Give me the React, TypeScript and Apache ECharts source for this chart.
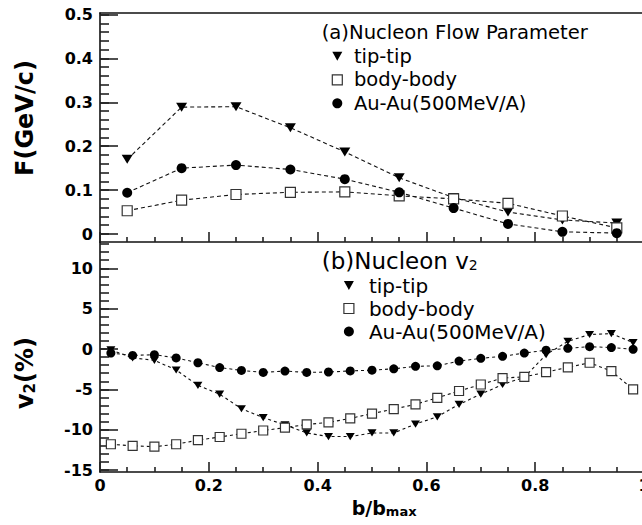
import React, { useEffect, useRef } from 'react';
import * as echarts from 'echarts';

// ---------- data ----------
const SERIES_NAMES = ['tip-tip', 'body-body', 'Au-Au(500MeV/A)'];

// (a) Nucleon flow parameter F (GeV/c)
const X_TOP = [0.05, 0.15, 0.25, 0.35, 0.45, 0.55, 0.65, 0.75, 0.85, 0.95];
const TIP_TOP = [0.17, 0.289, 0.29, 0.242, 0.187, 0.128, 0.083, 0.05, 0.032, 0.025];
const BODY_TOP = [0.053, 0.077, 0.09, 0.095, 0.096, 0.087, 0.08, 0.07, 0.041, 0.014];
const AU_TOP = [0.094, 0.15, 0.157, 0.147, 0.125, 0.095, 0.059, 0.023, 0.005, 0.002];

// (b) Nucleon v2 (%)
const X_BOT = [0.02, 0.06, 0.1, 0.14, 0.18, 0.22, 0.26, 0.3, 0.34, 0.38, 0.42, 0.46, 0.5,
  0.54, 0.58, 0.62, 0.66, 0.7, 0.74, 0.78, 0.82, 0.86, 0.9, 0.94, 0.98];
const TIP_BOT = [-0.1, -1.1, -1.4, -2.6, -4.5, -5.6, -7.4, -8.5, -9.4, -10.4, -10.85, -10.85, -10.4,
  -10.4, -9.3, -8.4, -6.86, -5.6, -4.4, -3.5, -0.7, 0.95, 1.8, 1.9, 0.8];
const BODY_BOT = [-11.8, -12.0, -12.1, -11.8, -11.3, -10.9, -10.5, -10.1, -9.75, -9.35, -9.1, -8.6, -8.0,
  -7.45, -6.85, -6.05, -5.2, -4.4, -3.6, -3.45, -2.87, -2.27, -1.7, -2.75, -5.0];
const AU_BOT = [-0.5, -0.8, -0.7, -1.1, -1.7, -2.3, -2.65, -2.9, -2.73, -2.9, -2.85, -2.72, -2.62,
  -2.45, -2.15, -2.08, -1.5, -1.16, -0.9, -0.5, -0.15, 0.08, 0.29, 0.18, -0.04];

// axis ranges and tick values
const X_MIN = 0, X_MAX = 1, X_STEP = 0.2;
const F_MIN = -0.0182, F_MAX = 0.5034;
const V_MIN = -15.24, V_MAX = 13.26;
const F_TICKS = [0, 0.1, 0.2, 0.3, 0.4, 0.5];
const F_MINOR_TICKS = [0, 0.02, 0.04, 0.06, 0.08, 0.1, 0.12, 0.14, 0.16, 0.18, 0.2, 0.22, 0.24, 0.26,
  0.28, 0.3, 0.32, 0.34, 0.36, 0.38, 0.4, 0.42, 0.44, 0.46, 0.48, 0.5];
const V_TICKS = [-15, -10, -5, 0, 5, 10];
const V_MINOR_TICKS = [-15, -14, -13, -12, -11, -10, -9, -8, -7, -6, -5, -4, -3, -2, -1, 0,
  1, 2, 3, 4, 5, 6, 7, 8, 9, 10, 11, 12, 13];

// ---------- styles ----------
const FONT = 'DejaVu Sans';
const TRI = 'path://M0,0L10,0L5,9Z';
const SQUARE_STROKE = '#333';
const AXIS_COLOR = '#111';
const TICK_COLOR = '#222';

const pairs = (xs: number[], ys: number[]) => xs.map((x, i) => [x, ys[i]]);

function buildOption() {
  const lineAxis = { show: true, onZero: false, lineStyle: { color: AXIS_COLOR, width: 1.6 } };
  const tickStyle = { color: TICK_COLOR, width: 1.6 };
  const xAxisBase = (gridIndex: number, labels: boolean) => ({
    type: 'value', gridIndex, min: X_MIN, max: X_MAX, interval: X_STEP, position: 'bottom',
    axisLine: lineAxis,
    axisTick: { show: true, inside: true, length: 10, lineStyle: tickStyle },
    minorTick: { show: true, splitNumber: 4, length: 5, lineStyle: tickStyle },
    splitLine: { show: false }, minorSplitLine: { show: false },
    axisLabel: {
      show: labels, margin: 5, color: '#000', fontFamily: FONT, fontWeight: 'bold', fontSize: 16,
      formatter: (v: number) => (Math.abs(v) < 1e-9 ? '0' : Math.abs(v - 1) < 1e-9 ? '1' : v.toFixed(1)),
    },
  });
  const yMain = (gridIndex: number, min: number, max: number, ticks: number[], fmt: (v: number) => string) => ({
    type: 'value', gridIndex, min, max, position: 'left',
    axisLine: lineAxis,
    axisTick: { show: true, inside: true, length: 18, customValues: ticks, lineStyle: tickStyle },
    splitLine: { show: false },
    axisLabel: { show: true, margin: 7, color: '#000', fontFamily: FONT, fontWeight: 'bold', fontSize: 16,
      customValues: ticks, formatter: fmt },
  });
  const yMinor = (gridIndex: number, min: number, max: number, ticks: number[]) => ({
    type: 'value', gridIndex, min, max, position: 'left', offset: 0,
    axisLine: { show: false, onZero: false },
    axisTick: { show: true, inside: true, length: 9, customValues: ticks, lineStyle: tickStyle },
    splitLine: { show: false },
    axisLabel: { show: false },
  });

  const fmtF = (v: number) => (Math.abs(v) < 1e-9 ? '0' : v.toFixed(1));
  const fmtV = (v: number) => String(Math.round(v));

  const mk = (name: string, xi: number, yi: number, data: number[][], big: boolean) => {
    const base: any = {
      type: 'line', name, xAxisIndex: xi, yAxisIndex: yi, data,
      showSymbol: true, showAllSymbol: true, symbolKeepAspect: true, silent: true,
      lineStyle: { color: '#111', width: 1.1, type: big ? [4, 3] : [3, 3] },
    };
    if (name === SERIES_NAMES[0]) {
      base.symbol = TRI; base.symbolSize = big ? [11, 10] : [9, 8];
      base.itemStyle = { color: '#000', borderWidth: 0 };
    } else if (name === SERIES_NAMES[1]) {
      base.symbol = 'rect'; base.symbolSize = big ? 10 : 9;
      base.itemStyle = { color: '#fff', borderColor: SQUARE_STROKE, borderWidth: 1.2 };
    } else {
      base.symbol = 'circle'; base.symbolSize = big ? 10 : 9;
      base.itemStyle = { color: '#000', borderWidth: 0 };
    }
    return base;
  };

  const legendData = [
    { name: SERIES_NAMES[0], icon: TRI, itemStyle: { color: '#000', borderWidth: 0 } },
    { name: SERIES_NAMES[1], icon: 'rect', itemStyle: { color: '#fff', borderColor: SQUARE_STROKE, borderWidth: 1.2 } },
    { name: SERIES_NAMES[2], icon: 'circle', itemStyle: { color: '#000', borderWidth: 0 } },
  ];
  const legend = (left: number, top: number, padLeft: number, size: number) => ({
    data: legendData, orient: 'vertical', left, top, padding: 0,
    itemWidth: 10, itemHeight: 10, itemGap: 23 - size, selectedMode: false,
    textStyle: { fontFamily: FONT, fontSize: size, color: '#000', lineHeight: size, padding: [0, 0, 0, padLeft] },
  });

  return {
    animation: false,
    backgroundColor: '#fff',
    grid: [
      { left: 100, right: -2, top: 13, height: 229, outerBoundsMode: 'none', containLabel: false },
      { left: 100, right: -2, top: 242, height: 230, outerBoundsMode: 'none', containLabel: false },
    ],
    xAxis: [
      xAxisBase(0, false),
      { type: 'value', gridIndex: 0, min: X_MIN, max: X_MAX, position: 'top', axisLine: lineAxis,
        axisTick: { show: false }, axisLabel: { show: false }, splitLine: { show: false } },
      xAxisBase(1, true),
    ],
    yAxis: [
      yMain(0, F_MIN, F_MAX, F_TICKS, fmtF),
      yMinor(0, F_MIN, F_MAX, F_MINOR_TICKS),
      yMain(1, V_MIN, V_MAX, V_TICKS, fmtV),
      yMinor(1, V_MIN, V_MAX, V_MINOR_TICKS),
    ],
    legend: [legend(331.7, 46.3, 6.6, 19.5), legend(343.3, 275.5, 10, 20)],
    graphic: [
      { type: 'text', x: 25, y: 118, rotation: Math.PI / 2,
        style: { text: 'F(GeV/c)', fill: '#000', font: `bold 24px "${FONT}"`, align: 'center', verticalAlign: 'middle' } },
      { type: 'text', x: 25, y: 373, rotation: Math.PI / 2,
        style: { text: '{m|v}{s|2}{m|(%)}', fill: '#000', align: 'center', verticalAlign: 'middle',
          rich: {
            m: { fontFamily: FONT, fontWeight: 'bold', fontSize: 24, lineHeight: 24, verticalAlign: 'bottom', fill: '#000' },
            s: { fontFamily: FONT, fontWeight: 'bold', fontSize: 15, lineHeight: 6, verticalAlign: 'bottom', fill: '#000' },
          } } },
      { type: 'text', x: 351.7, y: 508.4,
        style: { text: '{m|b/b}{s|max}', fill: '#000', align: 'left', verticalAlign: 'middle',
          rich: {
            m: { fontFamily: FONT, fontWeight: 'bold', fontSize: 19, lineHeight: 19, verticalAlign: 'bottom', fill: '#000' },
            s: { fontFamily: FONT, fontWeight: 'bold', fontSize: 13, lineHeight: 11, verticalAlign: 'bottom', fill: '#000' },
          } } },
      { type: 'text', x: 321.7, y: 32.4,
        style: { text: '(a)Nucleon Flow Parameter', fill: '#000', font: `19.6px "${FONT}"`, align: 'left', verticalAlign: 'middle' } },
      { type: 'text', x: 321.7, y: 260.6,
        style: { text: '{m|(b)Nucleon v}{s|2}', fill: '#000', align: 'left', verticalAlign: 'middle',
          rich: {
            m: { fontFamily: FONT, fontSize: 23, lineHeight: 23, verticalAlign: 'bottom', fill: '#000' },
            s: { fontFamily: FONT, fontSize: 14, lineHeight: 9, verticalAlign: 'bottom', fill: '#000' },
          } } },
    ],
    series: [
      mk(SERIES_NAMES[0], 0, 0, pairs(X_TOP, TIP_TOP), true),
      mk(SERIES_NAMES[1], 0, 0, pairs(X_TOP, BODY_TOP), true),
      mk(SERIES_NAMES[2], 0, 0, pairs(X_TOP, AU_TOP), true),
      mk(SERIES_NAMES[0], 2, 2, pairs(X_BOT, TIP_BOT), false),
      mk(SERIES_NAMES[1], 2, 2, pairs(X_BOT, BODY_BOT), false),
      mk(SERIES_NAMES[2], 2, 2, pairs(X_BOT, AU_BOT), false),
    ],
  };
}

export default function App() {
  const ref = useRef<HTMLDivElement>(null);
  useEffect(() => {
    if (!ref.current) return;
    const chart = echarts.init(ref.current, null, { renderer: 'svg' });
    chart.setOption(buildOption() as any);
    return () => chart.dispose();
  }, []);
  return (
    <div
      ref={ref}
      style={{ position: 'absolute', left: 0, top: 0, width: 642, height: 525, background: '#fff' }}
    />
  );
}
